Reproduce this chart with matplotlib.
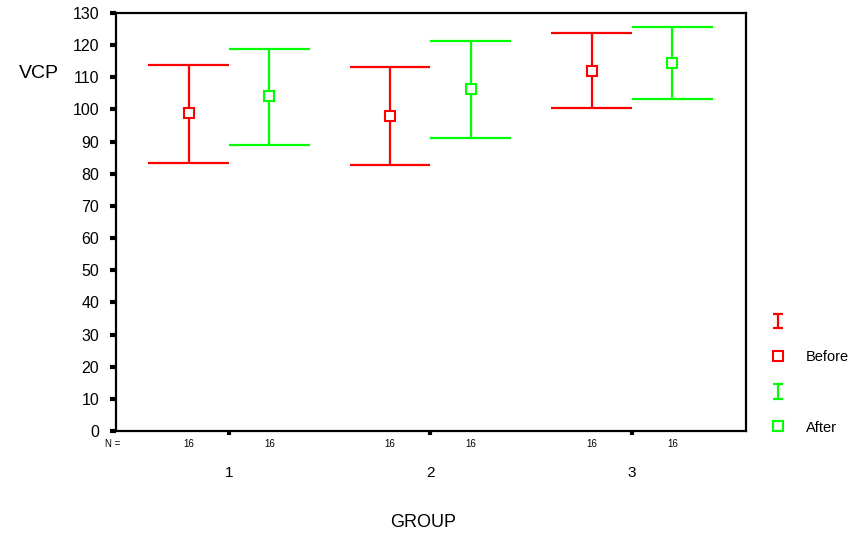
import numpy as np
import matplotlib
matplotlib.use("Agg")
import matplotlib.pyplot as plt
import matplotlib.transforms as mtransforms

plt.rcParams['font.family'] = ['Liberation Sans', 'DejaVu Sans']

groups = [1, 2, 3]
group_labels = ['1', '2', '3']
series = ['Before', 'After']
colors = ['#FF0000', '#00FF00']
means = {'Before': [98.8, 97.9, 111.9], 'After': [104.1, 106.5, 114.4]}
lower = {'Before': [83.5, 82.6, 100.4], 'After': [89.1, 91.0, 103.3]}
upper = {'Before': [113.8, 113.2, 123.8], 'After': [118.8, 121.3, 125.6]}
n_values = {'Before': [16, 16, 16], 'After': [16, 16, 16]}
yticks = list(range(0, 131, 10))

fig = plt.figure(figsize=(8.56, 5.36), dpi=100)
ax = fig.add_axes([116/856, 1 - 431/536, 630/856, 418/536])

offsets = [-0.2, 0.2]
cap_half = 0.2
handles = []
trans = mtransforms.blended_transform_factory(ax.transData, ax.transAxes)
for s, c, off in zip(series, colors, offsets):
    x = np.array(groups) + off
    lo = np.array(lower[s]); hi = np.array(upper[s]); m = np.array(means[s])
    ax.vlines(x, lo, hi, color=c, lw=1.6)
    ax.hlines(lo, x - cap_half, x + cap_half, color=c, lw=1.6)
    ax.hlines(hi, x - cap_half, x + cap_half, color=c, lw=1.6)
    ax.plot(x, m, linestyle='none', marker='s', markersize=7, markerfacecolor='white',
            markeredgecolor=c, markeredgewidth=1.5)
    eb = ax.errorbar([np.nan], [np.nan], yerr=[[1], [1]], fmt='none', ecolor=c,
                     elinewidth=1.6, capsize=3.5, capthick=1.6)
    sq, = ax.plot([], [], linestyle='none', marker='s', markersize=7, markerfacecolor='white',
                  markeredgecolor=c, markeredgewidth=1.5)
    handles += [eb, sq]
    for xi, n in zip(x, n_values[s]):
        ax.text(xi, -0.03, str(n), transform=trans, ha='center', va='center', fontsize=7)

ax.text(0.46, -0.03, 'N =', transform=trans, ha='right', va='center', fontsize=7)

ax.set_xlim(0.439, 3.566)
ax.set_ylim(0, 130)
ax.set_yticks(yticks)
ax.set_yticklabels([str(v) for v in yticks], fontsize=11.5)
ax.set_xticks(groups)
ax.set_xticklabels(group_labels, fontsize=11)
ax.tick_params(axis='y', direction='out', length=4, width=3, pad=8)
ax.tick_params(axis='x', direction='out', length=3, width=3, pad=22)
for sp in ax.spines.values():
    sp.set_linewidth(1.6)
    sp.set_color('black')

ax.set_xlabel('GROUP', fontsize=13, va='center')
ax.xaxis.set_label_coords(0.487, -0.22)
ax.set_ylabel('VCP', fontsize=14, rotation=0, va='center', ha='center')
ax.yaxis.set_label_coords(-0.123, 0.855)

leg = fig.legend(handles, ['', 'Before', '', 'After'], loc='upper left',
                 bbox_to_anchor=(756/856, 1 - 302/536), frameon=False, fontsize=10.5,
                 labelspacing=1.45, handlelength=1.2, handletextpad=1.3)

fig.savefig('out.png', dpi=100)
